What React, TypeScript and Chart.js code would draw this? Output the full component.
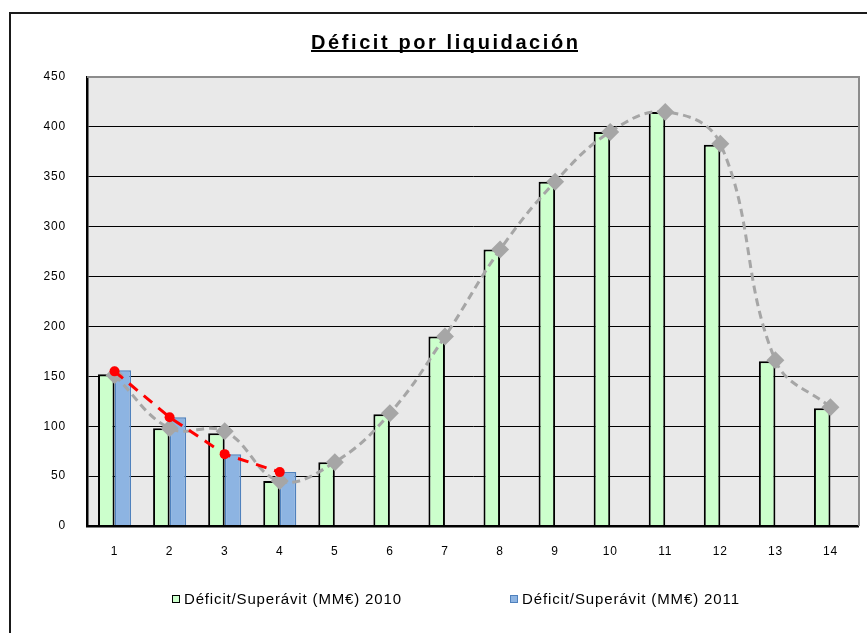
import React, { useEffect, useRef } from "react";
import { Chart, registerables } from "chart.js";

Chart.register(...registerables);

const categories = ["1", "2", "3", "4", "5", "6", "7", "8", "9", "10", "11", "12", "13", "14"];
const deficit2010 = [152, 98, 93, 45, 64, 112, 190, 277, 345, 395, 415, 382, 165, 118];
const deficit2011 = [156, 109, 72, 54, null, null, null, null, null, null, null, null, null, null];
const trend2010 = [151, 98, 95, 45, 64, 113, 190, 277, 345, 395, 415, 383, 166, 119];
const trend2011 = [155, 109, 72, 54, null, null, null, null, null, null, null, null, null, null];
const yMin = 0;
const yMax = 450;
const yStep = 50;
const chartTitle = "Déficit por liquidación";
const legendLabels = ["Déficit/Superávit (MM€) 2010", "Déficit/Superávit (MM€) 2011"];

const FONT = "'Liberation Sans', Arial, sans-serif";

function drawSpaced(ctx: CanvasRenderingContext2D, text: string, x: number, y: number, target: number) {
  (ctx as any).letterSpacing = "0px";
  const w = ctx.measureText(text).width;
  const n = Array.from(text).length;
  const sp = n > 1 ? (target - w) / (n - 1) : 0;
  (ctx as any).letterSpacing = sp + "px";
  ctx.textAlign = "left";
  ctx.fillText(text, x, y);
  (ctx as any).letterSpacing = "0px";
}

const decorPlugin = {
  id: "decor",
  beforeDraw(chart: any) {
    const ctx: CanvasRenderingContext2D = chart.ctx;
    const a = chart.chartArea;
    ctx.save();
    ctx.fillStyle = "#ffffff";
    ctx.fillRect(0, 0, chart.width, chart.height);
    ctx.fillStyle = "#e9e9e9";
    ctx.fillRect(a.left, a.top, a.right - a.left, a.bottom - a.top);
    ctx.restore();
    (ctx as any).letterSpacing = "0.8px";
  },
  afterDraw(chart: any) {
    const ctx: CanvasRenderingContext2D = chart.ctx;
    const a = chart.chartArea;
    (ctx as any).letterSpacing = "0px";
    ctx.save();
    // outer frame (cut at right/bottom)
    ctx.strokeStyle = "#1a1a1a";
    ctx.lineWidth = 2;
    ctx.beginPath();
    ctx.moveTo(10, chart.height);
    ctx.lineTo(10, 13);
    ctx.lineTo(chart.width, 13);
    ctx.stroke();

    // plot area top & right border
    ctx.strokeStyle = "#8c8c8c";
    ctx.lineWidth = 2;
    ctx.beginPath();
    ctx.moveTo(a.left, a.top);
    ctx.lineTo(a.right + 1, a.top);
    ctx.lineTo(a.right + 1, a.bottom);
    ctx.stroke();

    // title
    ctx.fillStyle = "#000";
    ctx.font = `bold 20px ${FONT}`;
    ctx.textBaseline = "alphabetic";
    drawSpaced(ctx, chartTitle, 311, 49, 267);
    ctx.fillRect(311, 50, 267, 2);

    // legend
    const items = [
      { x: 172, fill: "#ccffcc", stroke: "#000000", label: legendLabels[0] },
      { x: 510, fill: "#8db4e2", stroke: "#4f81bd", label: legendLabels[1] },
    ];
    ctx.font = `15px ${FONT}`;
    items.forEach((it) => {
      ctx.fillStyle = it.fill;
      ctx.fillRect(it.x, 595, 7, 7);
      ctx.strokeStyle = it.stroke;
      ctx.lineWidth = 1;
      ctx.strokeRect(it.x + 0.5, 595.5, 7, 7);
      ctx.fillStyle = "#000";
      drawSpaced(ctx, it.label, it.x + 12, 604, 217);
    });
    ctx.restore();
  },
};

export default function App() {
  const ref = useRef<HTMLCanvasElement | null>(null);

  useEffect(() => {
    if (!ref.current) return;
    const chart = new Chart(ref.current, {
      type: "bar",
      data: {
        labels: categories,
        datasets: [
          {
            type: "line",
            label: "trend2011",
            data: trend2011 as any,
            borderColor: "#ff0000",
            backgroundColor: "#ff0000",
            borderWidth: 3,
            borderDash: [11, 8],
            pointStyle: "circle",
            pointRadius: 5,
            pointBorderWidth: 0,
            tension: 0,
            spanGaps: false,
            order: 0,
          },
          {
            type: "line",
            label: "trend2010",
            data: trend2010,
            borderColor: "#a6a6a6",
            backgroundColor: "#a6a6a6",
            borderWidth: 3,
            borderDash: [8, 5],
            pointStyle: "rectRot",
            pointRadius: 9,
            pointBorderWidth: 0,
            tension: 0.4,
            order: 1,
          },
          {
            type: "bar",
            label: legendLabels[0],
            data: deficit2010,
            backgroundColor: "#ccffcc",
            borderColor: "#000000",
            borderWidth: 2,
            categoryPercentage: 0.6,
            barPercentage: 1.0,
            order: 2,
          },
          {
            type: "bar",
            label: legendLabels[1],
            data: deficit2011 as any,
            backgroundColor: "#8db4e2",
            borderColor: "#4f81bd",
            borderWidth: 1.5,
            categoryPercentage: 0.6,
            barPercentage: 1.0,
            order: 3,
          },
        ],
      },
      options: {
        responsive: false,
        animation: false,
        events: [],
        layout: { padding: { left: 10, right: 9, top: 77, bottom: 67 } },
        plugins: {
          legend: { display: false },
          title: { display: false },
          tooltip: { enabled: false },
        },
        scales: {
          x: {
            offset: true,
            grid: { display: false, drawTicks: false },
            border: { display: true, color: "#000", width: 2.5, z: 1 },
            ticks: {
              color: "#000",
              font: { family: FONT, size: 12 },
              padding: 18,
            },
            afterFit: (s: any) => {
              s.height = 40;
            },
          },
          y: {
            min: yMin,
            max: yMax,
            grid: {
              drawTicks: false,
              color: (c: any) => (c.tick && c.tick.value === yMax ? "rgba(0,0,0,0)" : "#000"),
              lineWidth: 1,
            },
            border: { display: true, color: "#000", width: 2.5, z: 1 },
            ticks: {
              stepSize: yStep,
              color: "#000",
              font: { family: FONT, size: 12 },
              padding: 21,
            },
            afterFit: (s: any) => {
              s.width = 77;
            },
          },
        },
      },
      plugins: [decorPlugin],
    });
    return () => chart.destroy();
  }, []);

  return (
    <div style={{ position: "fixed", left: 0, top: 0, width: 867, height: 633, background: "#fff" }}>
      <canvas ref={ref} width={867} height={633} style={{ width: 867, height: 633, display: "block" }} />
    </div>
  );
}
